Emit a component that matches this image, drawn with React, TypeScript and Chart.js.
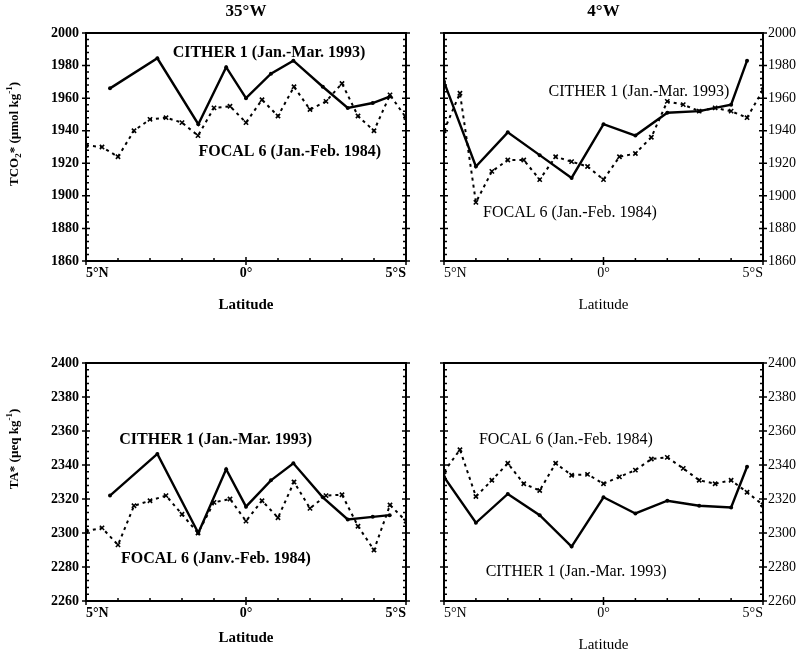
import React, { useEffect, useRef } from 'react';
import { Chart, registerables } from 'chart.js';

Chart.register(...registerables);

// ---------- data ----------
// latitude in degrees, north positive
const focalLat = [5, 4.5, 4, 3.5, 3, 2.5, 2, 1.5, 1, 0.5, 0, -0.5, -1, -1.5, -2, -2.5, -3, -3.5, -4, -4.5, -5];
const citherLat35W = [4.25, 2.77, 1.49, 0.62, 0, -0.78, -1.48, -2.4, -3.18, -3.96, -4.49];
const citherLat4W = [5, 4, 3, 2, 1, 0, -1, -2, -3, -4, -4.5];

const tco2Cither35W = [1966, 1984.5, 1944, 1979, 1960, 1975, 1983, 1967, 1954, 1957, 1961];
const tco2Focal35W = [1931, 1930, 1924, 1940, 1947, 1948, 1945, 1937, 1954, 1955, 1945, 1959, 1949, 1967, 1953, 1958, 1969, 1949, 1940, 1962, 1948];
const tco2Cither4W = [1970, 1918, 1939, 1925, 1911, 1944, 1937, 1951, 1952, 1956, 1983];
const tco2Focal4W = [1940, 1963, 1896, 1915, 1922, 1922, 1910, 1924, 1921, 1918, 1910, 1924, 1926, 1936, 1958, 1956, 1952, 1954, 1952, 1948, 1965];

const taCither35W = [2322, 2346.5, 2300, 2337.5, 2315.5, 2331, 2341, 2321, 2308, 2309.5, 2310.5];
const taFocal35W = [2301, 2303, 2293, 2316, 2319, 2322, 2311, 2300, 2318, 2320, 2307, 2319, 2309, 2330, 2314.5, 2322, 2322.5, 2304, 2290, 2316.5, 2307];
const taCither4W = [2333, 2306, 2323, 2310.5, 2292, 2321, 2311.5, 2319, 2316, 2315, 2339];
const taFocal4W = [2336, 2349, 2321.5, 2331, 2341, 2329, 2325, 2341, 2334, 2334.5, 2329, 2333, 2337, 2343.5, 2344.5, 2338, 2331, 2329, 2331, 2324, 2316.5];

// axis runs north (left) to south (right): axis value = -latitude
const latTickLabels: Record<string, string> = { '-5': '5°N', '0': '0°', '5': '5°S' };
const tco2Range: [number, number] = [1860, 2000];
const taRange: [number, number] = [2260, 2400];
const yMajorStep = 20;
const yMinorStep = 4;

const CITHER_LABEL = 'CITHER 1 (Jan.-Mar. 1993)';
const FOCAL_LABEL = 'FOCAL 6 (Jan.-Feb. 1984)';
const FOCAL_LABEL_FR = 'FOCAL 6 (Janv.-Feb. 1984)';

const FAMILY = '"Liberation Serif", "Times New Roman", Times, serif';

type Seg = { t: string; sub?: boolean; sup?: boolean };

const tco2Title: Seg[] = [{ t: 'TCO' }, { t: '2', sub: true }, { t: '* (µmol kg' }, { t: '-1', sup: true }, { t: ')' }];
const taTitle: Seg[] = [{ t: 'TA* (µeq kg' }, { t: '-1', sup: true }, { t: ')' }];

interface Note { text: string; lat: number; val: number }
interface PanelCfg {
  key: string;
  left: number; top: number; width: number; height: number;
  area: { left: number; right: number; top: number; bottom: number };
  range: [number, number];
  labelSide: 'left' | 'right';
  bold: boolean;
  citherLat: number[]; citherVals: number[]; focalVals: number[];
  title?: string;
  yTitle?: Seg[]; yTitlePos?: [number, number];
  latitudeY: number;
  notes: Note[];
}

const panels: PanelCfg[] = [
  {
    key: 'tl', left: 0, top: 0, width: 425, height: 330,
    area: { left: 86, right: 406, top: 33, bottom: 261 },
    range: tco2Range, labelSide: 'left', bold: true,
    citherLat: citherLat35W, citherVals: tco2Cither35W, focalVals: tco2Focal35W,
    title: '35°W', yTitle: tco2Title, yTitlePos: [15, 134], latitudeY: 305,
    notes: [
      { text: CITHER_LABEL, lat: -0.72, val: 1987.7 },
      { text: FOCAL_LABEL, lat: -1.37, val: 1927 },
    ],
  },
  {
    key: 'tr', left: 425, top: 0, width: 383, height: 330,
    area: { left: 19, right: 338, top: 33, bottom: 261 },
    range: tco2Range, labelSide: 'right', bold: false,
    citherLat: citherLat4W, citherVals: tco2Cither4W, focalVals: tco2Focal4W,
    title: '4°W', latitudeY: 305,
    notes: [
      { text: CITHER_LABEL, lat: -1.11, val: 1963.8 },
      { text: FOCAL_LABEL, lat: 1.05, val: 1889.3 },
    ],
  },
  {
    key: 'bl', left: 0, top: 330, width: 425, height: 325,
    area: { left: 86, right: 406, top: 33, bottom: 271 },
    range: taRange, labelSide: 'left', bold: true,
    citherLat: citherLat35W, citherVals: taCither35W, focalVals: taFocal35W,
    yTitle: taTitle, yTitlePos: [15, 119], latitudeY: 308,
    notes: [
      { text: CITHER_LABEL, lat: 0.95, val: 2354.7 },
      { text: FOCAL_LABEL_FR, lat: 0.94, val: 2285 },
    ],
  },
  {
    key: 'br', left: 425, top: 330, width: 383, height: 325,
    area: { left: 19, right: 338, top: 33, bottom: 271 },
    range: taRange, labelSide: 'right', bold: false,
    citherLat: citherLat4W, citherVals: taCither4W, focalVals: taFocal4W,
    latitudeY: 315,
    notes: [
      { text: FOCAL_LABEL, lat: 1.18, val: 2354.7 },
      { text: CITHER_LABEL, lat: 0.86, val: 2277.2 },
    ],
  },
];

function drawRich(ctx: CanvasRenderingContext2D, segs: Seg[], cx: number, cy: number, size: number, weight: string, rotate: boolean) {
  ctx.save();
  ctx.translate(cx, cy);
  if (rotate) ctx.rotate(-Math.PI / 2);
  const fontFor = (s: Seg) => `${weight} ${s.sub || s.sup ? Math.round(size * 0.72) : size}px ${FAMILY}`;
  let total = 0;
  for (const s of segs) { ctx.font = fontFor(s); total += ctx.measureText(s.t).width; }
  let x = -total / 2;
  ctx.textBaseline = 'middle';
  ctx.textAlign = 'left';
  ctx.fillStyle = '#000';
  for (const s of segs) {
    ctx.font = fontFor(s);
    const dy = s.sub ? size * 0.3 : s.sup ? -size * 0.38 : 0;
    ctx.fillText(s.t, x, dy);
    x += ctx.measureText(s.t).width;
  }
  ctx.restore();
}

const decorPlugin = {
  id: 'decor',
  afterDraw(chart: any, _args: any, opts: any) {
    const cfg: PanelCfg = opts.cfg;
    if (!cfg) return;
    const { ctx, chartArea: a } = chart;
    const xs = chart.scales.x;
    const ys = chart.scales.y;
    const weight = cfg.bold ? 'bold' : 'normal';
    ctx.save();
    ctx.strokeStyle = '#000';
    ctx.lineWidth = 2;
    ctx.strokeRect(a.left, a.top, a.right - a.left, a.bottom - a.top);

    // x ticks
    ctx.lineWidth = 1.5;
    ctx.beginPath();
    for (const t of xs.ticks) {
      const px = xs.getPixelForValue(t.value);
      const major = latTickLabels[String(t.value)] !== undefined;
      if (major) { ctx.moveTo(px, a.bottom - 4); ctx.lineTo(px, a.bottom + 4); }
      else { ctx.moveTo(px, a.bottom - 3); ctx.lineTo(px, a.bottom + 1); }
    }
    // y ticks (both sides)
    const [ymin, ymax] = cfg.range;
    for (let v = ymin; v <= ymax + 1e-6; v += yMinorStep) {
      const py = ys.getPixelForValue(v);
      const major = (v - ymin) % yMajorStep === 0;
      if (major) {
        ctx.moveTo(a.left - 4, py); ctx.lineTo(a.left + 4, py);
        ctx.moveTo(a.right - 4, py); ctx.lineTo(a.right + 4, py);
      } else {
        ctx.moveTo(a.left - 1, py); ctx.lineTo(a.left + 3, py);
        ctx.moveTo(a.right - 3, py); ctx.lineTo(a.right + 1, py);
      }
    }
    ctx.stroke();

    // annotations
    ctx.fillStyle = '#000';
    ctx.textAlign = 'center';
    ctx.textBaseline = 'middle';
    ctx.font = `${weight} 16px ${FAMILY}`;
    for (const n of cfg.notes) {
      ctx.fillText(n.text, xs.getPixelForValue(-n.lat), ys.getPixelForValue(n.val));
    }
    const cx = (a.left + a.right) / 2;
    // x-axis title
    ctx.font = `${weight} 15px ${FAMILY}`;
    ctx.fillText('Latitude', cx, cfg.latitudeY);
    // panel title
    if (cfg.title) {
      ctx.font = `bold 17px ${FAMILY}`;
      ctx.fillText(cfg.title, cx, 12);
    }
    ctx.restore();
    if (cfg.yTitle && cfg.yTitlePos) {
      drawRich(ctx, cfg.yTitle, cfg.yTitlePos[0], cfg.yTitlePos[1], 13, 'bold', true);
    }
  },
};

function Panel({ cfg }: { cfg: PanelCfg }) {
  const ref = useRef<HTMLCanvasElement | null>(null);
  useEffect(() => {
    if (!ref.current) return;
    const weight = cfg.bold ? 'bold' : 'normal';
    const tickFont = { family: FAMILY, size: 14, weight: weight as any };
    const W = cfg.width;
    const H = cfg.height;
    const plainNum = (v: any) => String(v);
    const chart = new Chart(ref.current, {
      type: 'line',
      data: {
        datasets: [
          {
            label: 'CITHER 1',
            data: cfg.citherLat.map((lat, i) => ({ x: -lat, y: cfg.citherVals[i] })),
            borderColor: '#000',
            backgroundColor: '#000',
            borderWidth: 2.4,
            pointRadius: 2,
            pointBorderWidth: 0,
            pointStyle: 'circle',
            tension: 0,
          },
          {
            label: 'FOCAL 6',
            data: focalLat.map((lat, i) => ({ x: -lat, y: cfg.focalVals[i] })),
            borderColor: '#000',
            backgroundColor: '#000',
            borderWidth: 2,
            borderDash: [3, 4],
            pointRadius: 3,
            pointBorderWidth: 1.6,
            pointStyle: 'crossRot',
            tension: 0,
          },
        ],
      },
      options: {
        animation: false,
        responsive: false,
        events: [],
        layout: { padding: { top: cfg.area.top, left: 0, right: 0, bottom: 0 } },
        plugins: {
          legend: { display: false },
          tooltip: { enabled: false },
          title: { display: false },
          decor: { cfg },
        } as any,
        scales: {
          x: {
            type: 'linear',
            position: 'bottom',
            min: -5,
            max: 5,
            afterFit: (s: any) => { s.height = H - cfg.area.bottom; },
            ticks: {
              stepSize: 1,
              autoSkip: false,
              maxRotation: 0,
              align: 'inner',
              padding: 4,
              color: '#000',
              font: tickFont,
              callback: (v: any) => latTickLabels[String(v)] ?? '',
            },
            grid: { display: false, drawTicks: false },
            border: { display: false },
          },
          y: {
            type: 'linear',
            position: 'left',
            min: cfg.range[0],
            max: cfg.range[1],
            afterFit: (s: any) => { s.width = cfg.area.left; },
            ticks: {
              display: cfg.labelSide === 'left',
              stepSize: yMajorStep,
              padding: 7,
              color: '#000',
              font: tickFont,
              callback: plainNum,
            },
            grid: { display: false, drawTicks: false },
            border: { display: false },
          },
          y2: {
            type: 'linear',
            position: 'right',
            min: cfg.range[0],
            max: cfg.range[1],
            afterFit: (s: any) => { s.width = W - cfg.area.right; },
            ticks: {
              display: cfg.labelSide === 'right',
              stepSize: yMajorStep,
              padding: 5,
              color: '#000',
              font: tickFont,
              callback: plainNum,
            },
            grid: { display: false, drawTicks: false },
            border: { display: false },
          },
        },
      } as any,
      plugins: [decorPlugin],
    });
    return () => chart.destroy();
  }, [cfg]);
  return (
    <canvas
      ref={ref}
      width={cfg.width}
      height={cfg.height}
      style={{ position: 'absolute', left: cfg.left, top: cfg.top, width: cfg.width, height: cfg.height }}
    />
  );
}

export default function App() {
  return (
    <div style={{ position: 'absolute', left: 0, top: 0, width: 808, height: 655, background: '#fff' }}>
      {panels.map((p) => (
        <Panel key={p.key} cfg={p} />
      ))}
    </div>
  );
}
